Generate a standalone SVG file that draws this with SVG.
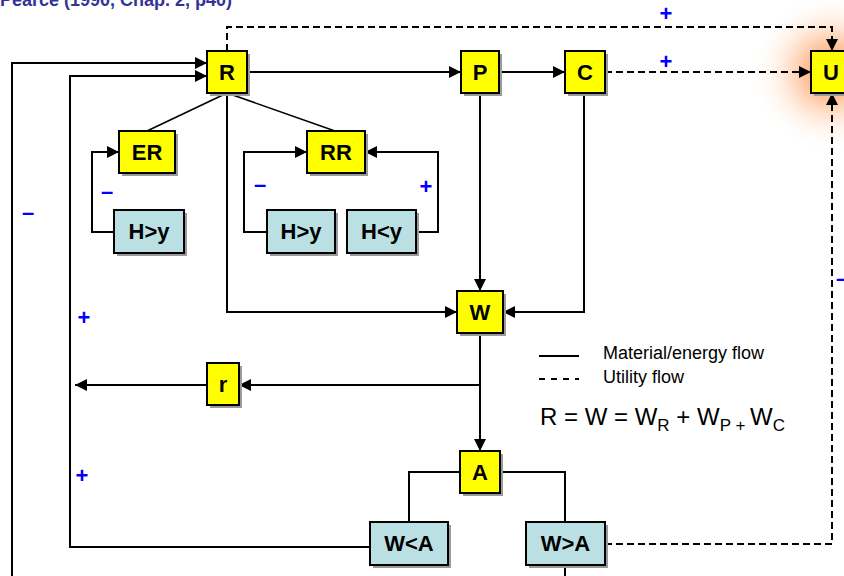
<svg xmlns="http://www.w3.org/2000/svg" width="844" height="576" viewBox="0 0 844 576">
<style>
.ln{fill:none;stroke:#000;stroke-width:2}
.th{fill:none;stroke:#000;stroke-width:1.6}
.ds{fill:none;stroke:#000;stroke-width:2;stroke-dasharray:7 4}
.arr{marker-end:url(#ah)}
.y{fill:#ffff00;stroke:#000;stroke-width:2}
.b{fill:#bbe0e3;stroke:#000;stroke-width:2}
.sh{fill:#9a9a9a}
.lbl{font-family:"Liberation Sans",Arial,sans-serif;font-weight:bold;font-size:22px;text-anchor:middle;fill:#000}
.sg{font-family:"Liberation Sans",Arial,sans-serif;font-weight:bold;font-size:22px;text-anchor:middle;fill:#0000ff}
.lg{font-family:"Liberation Sans",Arial,sans-serif;font-size:18px;fill:#000}
.fm{font-family:"Liberation Sans",Arial,sans-serif;font-size:24px;fill:#000}
.sub{font-size:17px}
</style>
<defs>
<marker id="ah" markerWidth="12" markerHeight="12" refX="12" refY="6" orient="auto" markerUnits="userSpaceOnUse"><path d="M0,0 L12,6 L0,12 z" fill="#000"/></marker>
<radialGradient id="glow" cx="0.5" cy="0.5" r="0.5">
<stop offset="0" stop-color="#ff6a10" stop-opacity="0.85"/>
<stop offset="0.35" stop-color="#ff8c45" stop-opacity="0.5"/>
<stop offset="0.7" stop-color="#ffc090" stop-opacity="0.18"/>
<stop offset="1" stop-color="#ffffff" stop-opacity="0"/>
</radialGradient>
</defs>
<rect width="844" height="576" fill="#fff"/>
<text x="232" y="6" font-family="Liberation Sans,Arial,sans-serif" font-weight="bold" font-size="18" fill="#333399" text-anchor="end">Pearce (1990, Chap. 2, p40)</text>
<circle cx="831" cy="72" r="80" fill="url(#glow)"/>
<g id="connectors">
<path class="ln arr" d="M12,576 V63 H207"/>
<path class="ln arr" d="M370,547 H70 V76 H207"/>
<path class="ln arr" d="M247,72 H461"/>
<path class="ln arr" d="M499,72 H565"/>
<path class="ds arr" d="M605,72 H811"/>
<path class="ds arr" d="M227,51 V27 H832 V51"/>
<path class="ds arr" d="M605,544 H832 V93"/>
<path class="th" d="M227,93 L147,131"/>
<path class="th" d="M227,93 L335,131"/>
<path class="ln arr" d="M227,93 V312 H457"/>
<path class="ln arr" d="M480,93 V291"/>
<path class="ln arr" d="M584,93 V312 H503"/>
<path class="ln arr" d="M480,333 V451"/>
<path class="ln arr" d="M480,385 H239"/>
<path class="ln arr" d="M207,385 H75"/>
<path class="ln" d="M460,472 H409 V522"/>
<path class="ln" d="M500,472 H565 V522"/>
<path class="ln" d="M565,565 V576"/>
<path class="ln arr" d="M114,232 H92 V152 H119"/>
<path class="ln arr" d="M267,232 H244 V152 H307"/>
<path class="ln arr" d="M416,232 H438 V152 H365"/>
</g>
<g id="node-R"><rect class="sh" x="210" y="54" width="40" height="42"/><rect class="y" x="207" y="51" width="40" height="42"/><text class="lbl" x="227" y="80">R</text></g>
<g id="node-P"><rect class="sh" x="464" y="54" width="38" height="42"/><rect class="y" x="461" y="51" width="38" height="42"/><text class="lbl" x="480" y="80">P</text></g>
<g id="node-C"><rect class="sh" x="568" y="54" width="40" height="42"/><rect class="y" x="565" y="51" width="40" height="42"/><text class="lbl" x="585" y="80">C</text></g>
<g id="node-U"><rect class="sh" x="814" y="54" width="40" height="42"/><rect class="y" x="811" y="51" width="40" height="42"/><text class="lbl" x="831" y="80">U</text></g>
<g id="node-ER"><rect class="sh" x="122" y="134" width="56" height="42"/><rect class="y" x="119" y="131" width="56" height="42"/><text class="lbl" x="147" y="160">ER</text></g>
<g id="node-RR"><rect class="sh" x="310" y="134" width="58" height="42"/><rect class="y" x="307" y="131" width="58" height="42"/><text class="lbl" x="336" y="160">RR</text></g>
<g id="node-Hy1"><rect class="sh" x="117" y="213" width="70" height="43"/><rect class="b" x="114" y="210" width="70" height="43"/><text class="lbl" x="149" y="239">H&gt;y</text></g>
<g id="node-Hy2"><rect class="sh" x="270" y="213" width="68" height="43"/><rect class="b" x="267" y="210" width="68" height="43"/><text class="lbl" x="301" y="239">H&gt;y</text></g>
<g id="node-Hy3"><rect class="sh" x="350" y="213" width="69" height="43"/><rect class="b" x="347" y="210" width="69" height="43"/><text class="lbl" x="381.5" y="239">H&lt;y</text></g>
<g id="node-W"><rect class="sh" x="460" y="294" width="46" height="42"/><rect class="y" x="457" y="291" width="46" height="42"/><text class="lbl" x="480" y="320">W</text></g>
<g id="node-r"><rect class="sh" x="210" y="366" width="32" height="42"/><rect class="y" x="207" y="363" width="32" height="42"/><text class="lbl" x="223" y="392">r</text></g>
<g id="node-A"><rect class="sh" x="463" y="454" width="40" height="42"/><rect class="y" x="460" y="451" width="40" height="42"/><text class="lbl" x="480" y="480">A</text></g>
<g id="node-WltA"><rect class="sh" x="373" y="525" width="78" height="43"/><rect class="b" x="370" y="522" width="78" height="43"/><text class="lbl" x="409" y="551">W&lt;A</text></g>
<g id="node-WgtA"><rect class="sh" x="529" y="525" width="79" height="43"/><rect class="b" x="526" y="522" width="79" height="43"/><text class="lbl" x="565.5" y="551">W&gt;A</text></g>
<g id="signs">
<text class="sg" x="666" y="21">+</text>
<text class="sg" x="666" y="69">+</text>
<text class="sg" x="107" y="199">–</text>
<text class="sg" x="260" y="192">–</text>
<text class="sg" x="426" y="194">+</text>
<text class="sg" x="28" y="220">–</text>
<text class="sg" x="84" y="325">+</text>
<text class="sg" x="82" y="483">+</text>
<text class="sg" x="842" y="286">–</text>
</g>
<g id="legend">
<line class="ln" x1="539" y1="356" x2="579" y2="356"/>
<line class="ds" x1="539" y1="379" x2="579" y2="379" style="stroke-dasharray:6 6"/>
<text class="lg" x="603" y="359">Material/energy flow</text>
<text class="lg" x="603" y="383">Utility flow</text>
<text class="fm" x="540" y="425">R = W = W<tspan class="sub" dy="6">R</tspan><tspan dy="-6"> + W</tspan><tspan class="sub" dy="6">P</tspan><tspan class="sub"> + </tspan><tspan dy="-6">W</tspan><tspan class="sub" dy="6">C</tspan></text>
</g>
</svg>
